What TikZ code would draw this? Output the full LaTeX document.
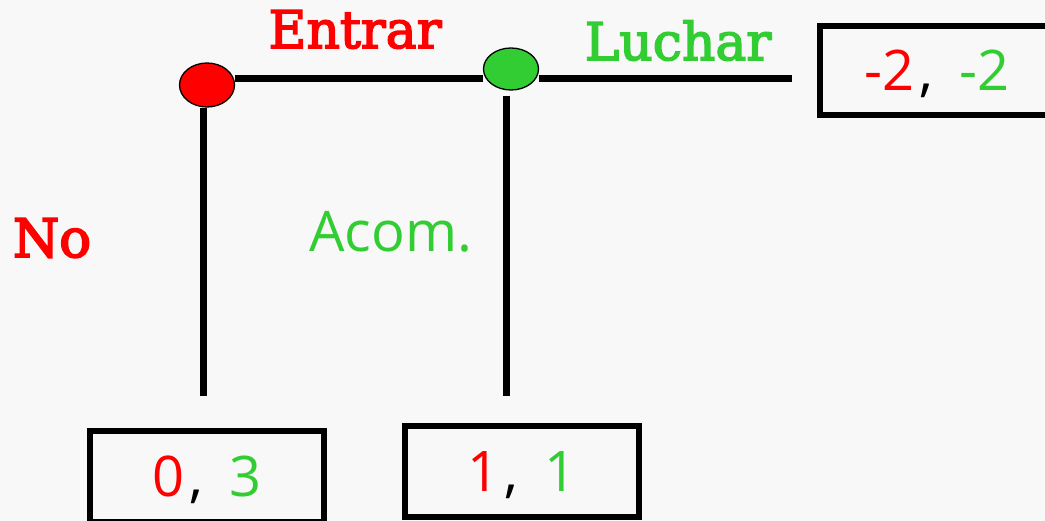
\documentclass[tikz,border=0pt]{standalone}
\usepackage{fontspec}
\setmainfont{Open Sans}
\newfontfamily\serifA[BoldFont={DejaVu Serif},BoldFeatures={FakeBold=3}]{DejaVu Serif}[FakeBold=1.6]
\newfontfamily\serifN[FakeBold=3.5]{DejaVu Serif}
\usetikzlibrary{shapes.geometric}
\definecolor{bg}{RGB}{248,248,248}
\definecolor{pred}{RGB}{255,0,0}
\definecolor{pgreen}{RGB}{50,205,50}
\pgfdeclarelayer{bglayer}
\pgfdeclarelayer{edgelayer}
\pgfsetlayers{bglayer,edgelayer,main}
\newcommand{\payoffpair}[2]{{\color{pred}#1}\kern5pt,\hspace{26pt}{\color{pgreen}#2}}
\begin{document}
\begin{tikzpicture}[x=1pt,y=-1pt,
  edge/.style={line width=7pt},
  decision/.style={ellipse,draw,line width=1.3pt,inner sep=0pt,minimum width=55pt,minimum height=44pt},
  payoff/.style={draw,line width=6pt,minimum width=234pt,minimum height=91pt,inner sep=0pt,
                 text height=40pt,text depth=0pt,font=\fontsize{56}{60}\selectfont},
  lbl/.style={anchor=base,inner sep=0pt},
  serifreg/.style={font=\serifA\bfseries\fontsize{52}{56}\selectfont},
  serifbold/.style={font=\serifN\fontsize{53}{56}\selectfont},
  sanslbl/.style={font=\fontsize{56}{60}\selectfont}]
\useasboundingbox (0,0) rectangle (1045,521);
\clip (0,0) rectangle (1045,521);
\begin{pgfonlayer}{bglayer}
\fill[bg] (0,0) rectangle (1045,521);
\end{pgfonlayer}

% decision nodes
\node[decision, fill=pred] (red) at (207,85) {};
\node[decision, fill=pgreen, minimum height=42pt] (green) at (511,69) {};

% payoff boxes
\node[payoff] (box03) at (207,476.5) {\payoffpair{0}{3}};
\node[payoff] (box11) at (522,471.5) {\payoffpair{1}{1}};
\node[payoff, minimum height=89pt] (box22) at (937,70.5) {\payoffpair{-2}{-2}};

% labels
\node[lbl, serifreg, text=pred] (lEntrar) at (355,48) {Entrar};
\node[lbl, serifreg, text=pgreen] (lLuchar) at (678,60) {Luchar};
\node[lbl, serifbold, text=pred] (lNo) at (52,257) {No};
\node[lbl, sanslbl, text=pgreen] (lAcom) at (391,252) {Acom.};

% connectors
\coordinate (trunk) at (0,79);
\begin{pgfonlayer}{edgelayer}
\draw[edge] (red.east |- trunk) -- (green.west |- trunk);
\draw[edge, shorten >=25pt] (green.east |- trunk) -- (box22.west |- trunk);
\draw[edge, shorten >=32pt] ([xshift=-4pt]red.south) -- ([xshift=-4pt]red.south |- box03.north);
\draw[edge, shorten <=5pt, shorten >=27pt] ([xshift=-5pt]green.south) -- ([xshift=-5pt]green.south |- box11.north);
\end{pgfonlayer}
\end{tikzpicture}
\end{document}
